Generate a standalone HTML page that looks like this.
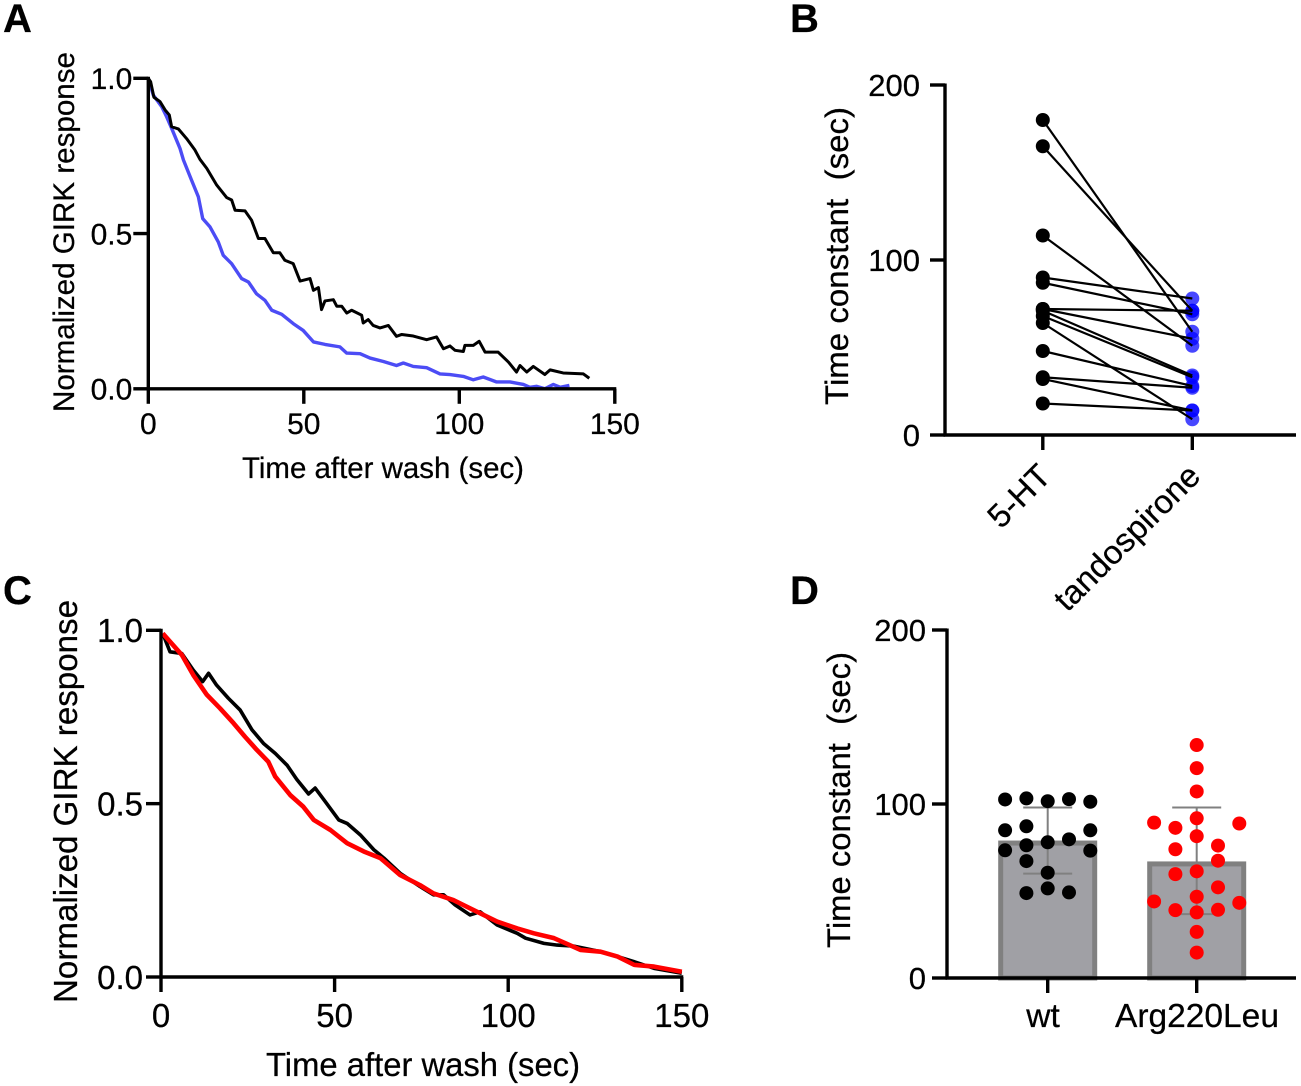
<!DOCTYPE html>
<html>
<head>
<meta charset="utf-8">
<title>GIRK response figure</title>
<style>
html,body{margin:0;padding:0;background:#fff;width:1301px;height:1086px;overflow:hidden}
svg{display:block}
text{font-family:"Liberation Sans",Arial,sans-serif;fill:#000;stroke:#000;stroke-width:.25px}
</style>
</head>
<body>
<svg id="fig" width="1301" height="1086" viewBox="0 0 1301 1086" xmlns="http://www.w3.org/2000/svg"></svg>
<script>
// Panel A
const aBlackT = [0,.75,1.8,3.75,5.4,6.75,7.5,9.65,12.3,15,16.6,18.8,22,25.2,26.8,27.9,31.1,33.2,35.4,37.5,40.2,42.3,43.9,46.6,48.8,52,53.1,54.7,55.7,56.8,59.5,60.6,62.2,63.8,65.4,68.6,69.1,70.7,72.3,74.5,77.2,79.8,81.5,85.2,89.5,92.7,94.9,97,98.6,101.3,101.8,104.5,106.4,108.3,112.5,115.8,118.4,119.5,121.7,123.8,127.5,129.2,133.4,139.9,141.8];
const aBlackV = [1,.989,.939,.925,.898,.882,.844,.837,.806,.769,.739,.71,.656,.616,.608,.575,.573,.543,.484,.484,.438,.438,.414,.403,.347,.355,.317,.326,.255,.283,.287,.266,.266,.244,.253,.237,.212,.223,.204,.196,.204,.169,.175,.17,.158,.167,.129,.138,.124,.12,.14,.14,.153,.118,.118,.086,.054,.075,.054,.072,.046,.061,.051,.048,.034];
const aBlueT = [0,1.6,4.3,5.9,7.5,10.2,11.3,13.9,16.1,17.5,19.8,22.5,24.1,26.8,30,32.2,34.8,37.5,39.7,42.9,46.6,49.8,53.1,56.8,61.6,63.8,68.1,71.3,75.6,79.8,82,85.2,89.5,93.8,97,101.3,104.5,107.7,112,116.3,120.6,122.7,124.9,127.5,130.2,132.4,135.4];
const aBlueV = [1,.946,.909,.876,.839,.774,.737,.672,.618,.548,.522,.473,.43,.403,.355,.344,.306,.285,.253,.24,.21,.188,.151,.143,.135,.115,.113,.099,.088,.075,.083,.072,.068,.048,.046,.04,.029,.038,.022,.022,.014,.005,.008,0,.014,.005,.011];
const curveXTicks = [0,50,100,150];
const curveYTicks = [0,0.5,1];
const curveYLabels = ['0.0','0.5','1.0'];
// Panel B
const bCategories = ['5-HT','tandospirone'];
const bBefore = [180,165,114,90,87,72,72,71,68,64,48,33,32,18];
const bAfter = [59,71,51,78,69,71,55,34,33,9,28,27,14,14];
const bYTicks = [0,100,200];
// Panel C
const cBlackT = [.5,2.6,6,9.3,12,13.7,16,19.4,22.8,26.2,29.5,32.9,36.3,39.1,42.5,44.4,47.3,51.2,53.6,57.4,61.3,64.2,68.9,74.6,78.5,81.4,84.7,89,91.9,96.8,102.6,105,110.3,114.1,118.9,126.6,131.5,136.3,142,150];
const cBlackV = [.991,.938,.933,.885,.852,.876,.842,.804,.77,.713,.674,.645,.611,.57,.528,.545,.506,.453,.443,.41,.367,.343,.299,.261,.237,.237,.208,.179,.188,.15,.126,.112,.097,.092,.089,.073,.059,.044,.025,.011];
const cRedT = [.5,6,9.3,13.2,17,20.9,24.2,27.6,30.9,32.9,37.2,41,44,48.8,53.6,58.4,63.2,68.9,74.6,78.5,84.2,89,96.8,102.6,107.4,113.2,120.9,126.6,131.5,136.3,142,150];
const cRedV = [.991,.929,.871,.814,.775,.732,.693,.655,.621,.578,.525,.491,.453,.424,.386,.362,.343,.294,.265,.241,.222,.198,.16,.14,.126,.112,.078,.073,.059,.035,.03,.015];
// Panel D
const dCategories = ['wt','Arg220Leu'];
const dMeans = [79,67];
const dErrHigh = [98,98];
const dErrLow = [60,36.7];
const dWtValues = [102.6,103.2,101.6,102.8,101.3,84.9,87.2,84.9,79.7,78,76.3,73.4,73.2,67.2,60.5,51.5,48.8,49.2];
const dWtColumns = [-2,-1,0,1,2,-2,-1,2,1,0,-1,-2,2,-1,0,0,-1,1];
const dArgValues = [133.9,120.6,107.2,91.8,89.3,88.8,86.3,81.5,76.1,74,67.4,59.7,61.3,52.1,46.7,44,43.2,39,39.2,37.7,26.5,14.6];
const dArgColumns = [0,0,0,0,-2,2,-1,0,1,-1,1,-1,0,1,0,-2,2,-1,1,0,0,0];
const dYTicks = [0,100,200];

const svg = document.getElementById('fig');
const NS = 'http://www.w3.org/2000/svg';
const AXW = 3.4;
function mk(tag, attrs, parent, txt){
  const n = document.createElementNS(NS, tag);
  for (const k in attrs) n.setAttribute(k, attrs[k]);
  if (txt !== undefined) n.textContent = txt;
  (parent || svg).appendChild(n);
  return n;
}
function group(parent){ return mk('g', {}, parent); }
function pathFrom(ts, vs, sx, sy){
  return ts.map((t,i)=>(i?'L':'M')+sx(t).toFixed(2)+' '+sy(vs[i]).toFixed(2)).join('');
}

// panel letters
function panelLetter(t, x, y){
  const n = mk('text',{x:x,y:y,'font-size':40,'font-weight':'bold'},svg,t);
  
  
}
panelLetter('A',3,32);
panelLetter('B',790,32);
panelLetter('C',3,604);
panelLetter('D',790,604);

function curvePanel(cfg){
  const g = group();
  
  
  const sx = t => cfg.x0 + t*cfg.kx;
  const sy = v => cfg.y0 - v*cfg.ky;
  cfg.series.forEach(s=>{
    const p = mk('path',{d:pathFrom(s.t,s.v,sx,sy),fill:'none',stroke:s.color,'stroke-width':s.w,'stroke-linejoin':'round'},g);
    
    
  });
  const yAxis = mk('line',{x1:cfg.x0,x2:cfg.x0,y1:sy(1)-1.5,y2:cfg.y0+1.5,stroke:'#000','stroke-width':AXW},g);
  
  
  const xAxis = mk('line',{x1:cfg.x0-1.5,x2:sx(150)+1.5,y1:cfg.y0,y2:cfg.y0,stroke:'#000','stroke-width':AXW},g);
  
  
  curveXTicks.forEach(t=>{
    const tk = mk('line',{x1:sx(t),x2:sx(t),y1:cfg.y0,y2:cfg.y0+15,stroke:'#000','stroke-width':AXW},g);
    
    
    const lb = mk('text',{x:sx(t),y:cfg.y0+cfg.xLabDy,'font-size':cfg.fs,'text-anchor':'middle'},g,String(t));
    
    
  });
  curveYTicks.forEach((v,i)=>{
    const tk = mk('line',{x1:cfg.x0-15,x2:cfg.x0,y1:sy(v),y2:sy(v),stroke:'#000','stroke-width':AXW},g);
    
    
    const lb = mk('text',{x:cfg.x0-cfg.yLabDx,y:sy(v)+cfg.fs*0.36,'font-size':cfg.fs,'text-anchor':'end'},g,curveYLabels[i]);
    
    
  });
  const xt = mk('text',{x:cfg.xTitle[0],y:cfg.xTitle[1],'font-size':cfg.fs,textLength:cfg.xTitle[2],lengthAdjust:'spacingAndGlyphs'},g,'Time after wash (sec)');
  
  
  const yt = mk('text',{transform:`translate(${cfg.yTitle[0]} ${cfg.yTitle[1]}) rotate(-90)`,'font-size':cfg.fs,textLength:cfg.yTitle[2],lengthAdjust:'spacingAndGlyphs'},g,'Normalized GIRK response');
  
  
}
curvePanel({x0:148.3,kx:3.11,y0:388.8,ky:310.5,fs:30,xLabDy:45,yLabDx:16,
  xTitle:[242,478,282],yTitle:[74,412,360],
  series:[{t:aBlueT,v:aBlueV,color:'#4c4cf5',w:3.4},{t:aBlackT,v:aBlackV,color:'#000',w:3}]});
curvePanel({x0:161,kx:3.472,y0:977,ky:346.7,fs:33,xLabDy:50,yLabDx:18,
  xTitle:[266,1076,314],yTitle:[77,1003,403],
  series:[{t:cBlackT,v:cBlackV,color:'#000',w:3.6},{t:cRedT,v:cRedV,color:'#f00',w:4.6}]});

// Panel B
(function(){
  const g = group();
  
  
  const sx = i => 1042.8 + i*149.5;
  const sy = v => 435 - v*1.75;
  bAfter.forEach(v=>{
    const c = mk('circle',{cx:sx(1),cy:sy(v),r:7,fill:'rgba(0,0,255,.72)'},g);
    
    
  });
  bBefore.forEach((v,i)=>{
    const l = mk('line',{x1:sx(0),y1:sy(v),x2:sx(1),y2:sy(bAfter[i]),stroke:'#000','stroke-width':2.2},g);
    
    
  });
  bBefore.forEach(v=>{
    const c = mk('circle',{cx:sx(0),cy:sy(v),r:7,fill:'#000'},g);
    
    
  });
  const ya = mk('line',{x1:945,x2:945,y1:sy(200)-1.5,y2:436.5,stroke:'#000','stroke-width':AXW},g);
  
  
  const xa = mk('line',{x1:943.5,x2:1296,y1:435,y2:435,stroke:'#000','stroke-width':AXW},g);
  
  
  bYTicks.forEach(v=>{
    const tk = mk('line',{x1:930,x2:945,y1:sy(v),y2:sy(v),stroke:'#000','stroke-width':AXW},g);
    
    
    const lb = mk('text',{x:920,y:sy(v)+11,'font-size':31,'text-anchor':'end'},g,String(v));
    
    
  });
  bCategories.forEach((c,i)=>{
    const tk = mk('line',{x1:sx(i),x2:sx(i),y1:435,y2:450,stroke:'#000','stroke-width':AXW},g);
    
    
    const lb = mk('text',{transform:`translate(${sx(i)+10} 478) rotate(-45)`,'font-size':33,'text-anchor':'end'},g,c);
    
    
  });
  const yt = mk('text',{transform:'translate(848 405) rotate(-90)','font-size':32,textLength:298,lengthAdjust:'spacingAndGlyphs',style:'white-space:pre'},g,'Time constant  (sec)');
  
  
})();

// Panel D
(function(){
  const g = group();
  
  
  const sx = i => 1047.7 + i*149;
  const sy = v => 978 - v*1.74;
  const colStep = 21.3;
  dCategories.forEach((c,i)=>{
    const b = mk('rect',{x:sx(i)-47,y:sy(dMeans[i])+2.5,width:94,height:978-sy(dMeans[i])-2.5,fill:'#a0a0a5',stroke:'#808080','stroke-width':5},g);
    
    
    const s = mk('line',{x1:sx(i),x2:sx(i),y1:sy(dErrHigh[i]),y2:sy(dErrLow[i]),stroke:'#808080','stroke-width':2},g);
    
    
    const h = mk('line',{x1:sx(i)-24.5,x2:sx(i)+24.5,y1:sy(dErrHigh[i]),y2:sy(dErrHigh[i]),stroke:'#808080','stroke-width':2},g);
    
    
    const l = mk('line',{x1:sx(i)-24.5,x2:sx(i)+24.5,y1:sy(dErrLow[i]),y2:sy(dErrLow[i]),stroke:'#808080','stroke-width':2},g);
    
    
  });
  dWtValues.forEach((v,i)=>{
    const c = mk('circle',{cx:sx(0)+dWtColumns[i]*colStep,cy:sy(v),r:7,fill:'#000'},g);
    
    
  });
  dArgValues.forEach((v,i)=>{
    const c = mk('circle',{cx:sx(1)+dArgColumns[i]*colStep,cy:sy(v),r:7,fill:'#f00'},g);
    
    
  });
  const ya = mk('line',{x1:947,x2:947,y1:sy(200)-1.5,y2:979.5,stroke:'#000','stroke-width':AXW},g);
  
  
  const xa = mk('line',{x1:945.5,x2:1296,y1:978,y2:978,stroke:'#000','stroke-width':AXW},g);
  
  
  dYTicks.forEach(v=>{
    const tk = mk('line',{x1:932,x2:947,y1:sy(v),y2:sy(v),stroke:'#000','stroke-width':AXW},g);
    
    
    const lb = mk('text',{x:926,y:sy(v)+11,'font-size':31,'text-anchor':'end'},g,String(v));
    
    
  });
  dCategories.forEach((c,i)=>{
    const tk = mk('line',{x1:sx(i),x2:sx(i),y1:978,y2:993,stroke:'#000','stroke-width':AXW},g);
    
    
    const lb = mk('text',{x:i?1197:1043,y:1027,'font-size':33.5,'text-anchor':'middle'},g,c);
    
    
  });
  const yt = mk('text',{transform:'translate(850 948) rotate(-90)','font-size':32,textLength:296,lengthAdjust:'spacingAndGlyphs',style:'white-space:pre'},g,'Time constant  (sec)');
  
  
})();
</script>
</body>
</html>
